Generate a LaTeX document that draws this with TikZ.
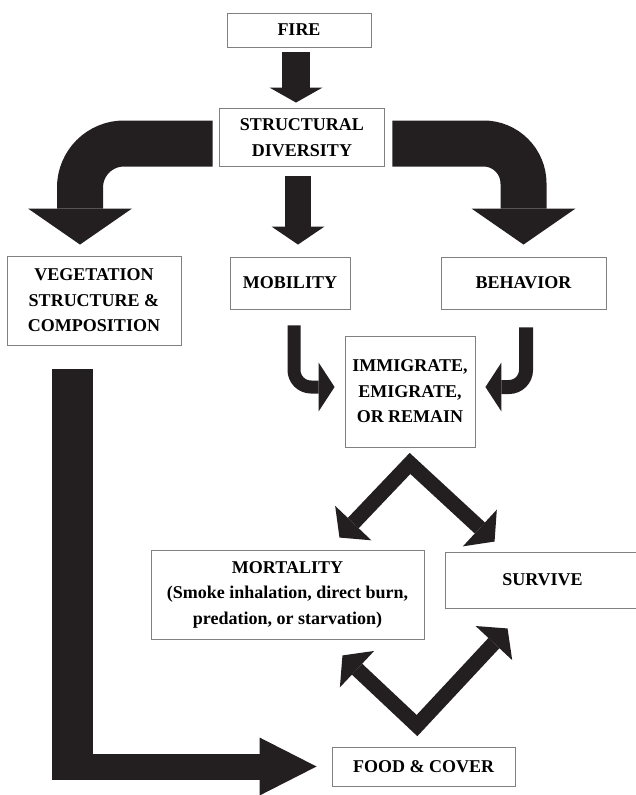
\documentclass[tikz,border=0pt]{standalone}
\usepackage{fontspec}
\setmainfont{Liberation Serif}
\usetikzlibrary{arrows.meta,calc}
\definecolor{arrowblack}{RGB}{35,31,32}
\definecolor{boxgray}{RGB}{128,128,128}

\tikzset{
  box/.style={rectangle, draw=boxgray, line width=0.9pt, inner sep=0pt,
              align=center, font=\fontsize{18}{25.5}\selectfont\bfseries},
  downflow/.style={draw=arrowblack, line width=#1},
  bentflow/.style={draw=arrowblack, line width=46pt, rounded corners=44pt,
              -{Triangle[width=104pt,length=36pt,line width=0pt]}},
  hookflow/.style={draw=arrowblack, line width=13pt, rounded corners=17pt,
              -{Triangle[width=49pt,length=16pt,line width=0pt]}},
  veeflow/.style={draw=arrowblack, line width=15pt, line join=miter,
              {Triangle[width=50pt,length=20pt,line width=0pt]}-{Triangle[width=50pt,length=20pt,line width=0pt]}}
}

\begin{document}
\begin{tikzpicture}[x=1pt,y=-1pt]
    \useasboundingbox (0,0) rectangle (635,795);

    % boxes
    \node[box, minimum width=144pt, minimum height=34pt] (fire) at (299,30) {FIRE};
    \node[box, minimum width=165pt, minimum height=58pt] (sd) at (302,137.5) {STRUCTURAL\\DIVERSITY};
    \node[box, minimum width=174pt, minimum height=89pt] (veg) at (94,300.5) {VEGETATION\\STRUCTURE \&\\COMPOSITION};
    \node[box, minimum width=120pt, minimum height=52pt] (mob) at (290,283) {MOBILITY};
    \node[box, minimum width=165pt, minimum height=52pt] (beh) at (523.5,283) {BEHAVIOR};
    \node[box, minimum width=130pt, minimum height=111pt] (imm) at (410,391.5) {IMMIGRATE,\\EMIGRATE,\\OR REMAIN};
    \node[box, minimum width=273pt, minimum height=89pt] (mort) at (287.5,594.5) {MORTALITY\\(Smoke inhalation, direct burn,\\predation, or starvation)};
    \node[box, minimum width=195pt, minimum height=56pt] (surv) at (542.5,580) {SURVIVE};
    \node[box, minimum width=183pt, minimum height=39pt] (food) at (423.5,766.5) {FOOD \& COVER};

    % straight arrows
    \draw[downflow=28pt, -{Triangle[width=53pt,length=15pt,line width=0pt]}]
        ([xshift=-3pt,yshift=-5pt]fire.south) -- ([xshift=-6pt,yshift=5.5pt]sd.north);
    \draw[downflow=26pt, -{Triangle[width=53pt,length=18pt,line width=0pt]}]
        ([xshift=-4pt,yshift=-9.5pt]sd.south) -- ([xshift=8pt,yshift=12pt]mob.north);

    % bent arrows
    \draw[bentflow] ([xshift=-6.5pt,yshift=-6pt]sd.west) -| ([xshift=-14pt,yshift=11pt]veg.north);
    \draw[bentflow, rounded corners=40pt] ([xshift=7.5pt,yshift=-6pt]sd.east) -| ([yshift=12pt]beh.north);
    \draw[hookflow] ([xshift=4pt,yshift=-16pt]mob.south) |- ([xshift=-10pt,yshift=4.5pt]imm.west);
    \draw[hookflow, line width=14pt] ([xshift=2.5pt,yshift=-18pt]beh.south) |- ([xshift=10pt,yshift=4.5pt]imm.east);

    % split and rejoin
    \draw[veeflow] ([xshift=-85pt,yshift=12pt]mort.north east) -- ([yshift=-16pt]imm.south)
        -- ([xshift=50pt,yshift=10pt]surv.north west);
    \draw[veeflow] ([xshift=-82pt,yshift=-16pt]mort.south east) -- ([xshift=-6.5pt,yshift=21pt]food.north)
        -- ([xshift=63pt,yshift=-20pt]surv.south west);

    % long arrow to food
    \coordinate (lcorner) at ([xshift=-21.5pt]veg.south |- food.west);
    \draw[downflow=41pt] ([xshift=-21.5pt,yshift=-24pt]veg.south) -- ([yshift=-13.5pt]lcorner);
    \draw[downflow=26pt, -{Triangle[width=58pt,length=57pt,line width=0pt]}]
        ([xshift=-20.5pt]lcorner) -- ([xshift=-15pt]food.west);
\end{tikzpicture}
\end{document}
